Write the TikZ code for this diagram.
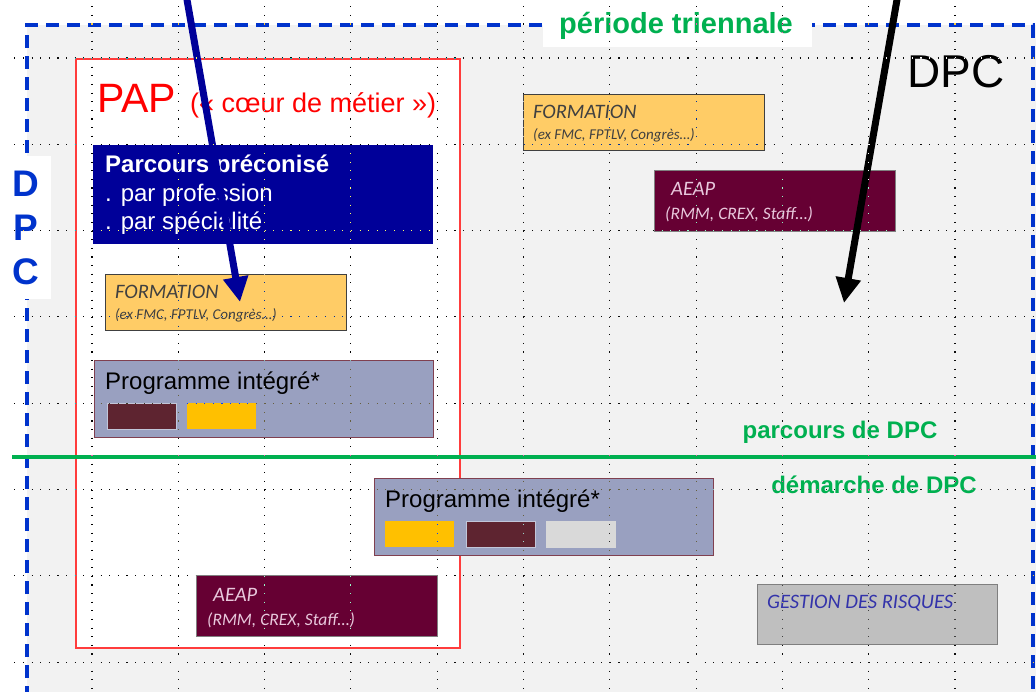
\documentclass[tikz,border=0pt]{standalone}
\usepackage{fontspec}
\setmainfont{Liberation Sans}
\newfontfamily\boxfont{Carlito}
\usepackage{tikz}
\usetikzlibrary{arrows.meta}

\definecolor{dpcblue}{RGB}{0,51,204}
\definecolor{trigreen}{RGB}{0,176,80}
\definecolor{bggray}{RGB}{242,242,242}
\definecolor{papedge}{RGB}{255,60,60}
\definecolor{navy}{RGB}{0,0,153}
\definecolor{formfill}{RGB}{255,204,102}
\definecolor{aeapfill}{RGB}{102,0,51}
\definecolor{aeaptext}{RGB}{232,200,220}
\definecolor{progfill}{RGB}{153,160,192}
\definecolor{progedge}{RGB}{128,64,80}
\definecolor{wine}{RGB}{94,36,48}
\definecolor{gold}{RGB}{255,192,0}
\definecolor{chipgray}{RGB}{217,217,217}
\definecolor{riskfill}{RGB}{191,191,191}
\definecolor{riskedge}{RGB}{127,127,127}
\definecolor{risktext}{RGB}{51,51,170}

\tikzset{
  panel/.style={anchor=north west, inner sep=0pt},
  formbox/.style={panel, fill=formfill, draw=black!75, line width=0.8pt, minimum width=241pt, minimum height=56pt},
  aeapbox/.style={panel, fill=aeapfill, draw=black!50, line width=0.8pt, minimum width=241pt, minimum height=61pt},
  progbox/.style={panel, fill=progfill, draw=progedge, line width=0.9pt, minimum width=339pt, minimum height=77pt},
  chip/.style={panel, minimum width=69pt, minimum height=26pt},
  label/.style={anchor=base west, inner sep=0pt},
  boxtext/.style={label, font=\boxfont\itshape\fontsize{20.5}{24}\selectfont},
  boxnote/.style={label, font=\boxfont\itshape\fontsize{15}{18}\selectfont},
  greenlabel/.style={anchor=base, inner sep=0pt, text=trigreen, font=\bfseries\fontsize{24}{28}\selectfont},
  gridline/.style={white, line width=1.1pt, dash pattern=on 1.1pt off 7.53pt},
}

\begin{document}
\begin{tikzpicture}[x=1pt, y=-1pt, >={Triangle[length=25pt, width=24pt]}]
\useasboundingbox (0,0) rectangle (1036,692);
\clip (0,0) rectangle (1036,692);
\fill[white] (0,0) rectangle (1036,692);

% cadre de la periode triennale
\fill[bggray] (27,25) rectangle (1040,700);
\draw[dpcblue, line width=3.3pt, dash pattern=on 13pt off 8pt] (27,720) -- (27,25) -- (1033,25) -- (1033,720);

\node[panel, fill=white, minimum width=51pt, minimum height=143pt] (dpcside) at (0,156) {};
\node[anchor=base, inner sep=0pt, text=dpcblue, font=\bfseries\fontsize{37}{44}\selectfont] (sideD) at (26,197) {D};
\node[anchor=base, inner sep=0pt, text=dpcblue, font=\bfseries\fontsize{37}{44}\selectfont] (sideP) at (26,241) {P};
\node[anchor=base, inner sep=0pt, text=dpcblue, font=\bfseries\fontsize{37}{44}\selectfont] (sideC) at (26,285) {C};

\node[panel, fill=white, minimum width=269pt, minimum height=49pt] (trilabel) at (543,-2) {};
\node[greenlabel, font=\bfseries\fontsize{29}{34}\selectfont] (tritext) at (676,34) {période triennale};

\node[label, font=\fontsize{46}{55}\selectfont] (dpctitle) at (907,88) {DPC};

% PAP
\node[panel, draw=papedge, fill=white, line width=1.8pt, minimum width=384pt, minimum height=589pt] (pap) at (75,58) {};
\node[label, text=red, font=\fontsize{41}{48}\selectfont] (paptitle) at (97,113) {PAP};
\node[label, text=red, font=\fontsize{27}{32}\selectfont] (papsub) at (190,113) {(« cœur de métier »)};

\node[panel, fill=navy, minimum width=340pt, minimum height=99pt] (parcours) at (93,145) {};
\node[label, text=white, font=\bfseries\fontsize{24}{28}\selectfont] (parc1) at (105,173) {Parcours préconisé};
\node[label, text=white, font=\fontsize{24}{28}\selectfont] (parc2) at (105,202) {. par profession};
\node[label, text=white, font=\fontsize{24}{28}\selectfont] (parc3) at (105,230) {. par spécialité};

\node[formbox] (formpap) at (105,274) {};
\node[boxtext, text=black!75] at (115,299) {FORMATION};
\node[boxnote, text=black!75] at (115,320) {(ex FMC, FPTLV, Congrès…)};

\node[progbox] (prog1) at (94,360) {};
\node[label, font=\fontsize{24}{28}\selectfont] at (105,389) {Programme intégré*};
\node[chip, fill=wine, draw=progfill!60!white, line width=0.6pt] (prog1a) at (107,403) {};
\node[chip, fill=gold] (prog1b) at (187,403) {};

\node[aeapbox] (aeappap) at (196,575) {};
\node[boxtext, text=aeaptext] at (213,601) {AEAP};
\node[boxtext, text=aeaptext, font=\boxfont\itshape\fontsize{17.5}{21}\selectfont] at (207,625) {(RMM, CREX, Staff…)};

% hors PAP
\node[formbox] (formtop) at (523,94) {};
\node[boxtext, text=black!75] at (533,119) {FORMATION};
\node[boxnote, text=black!75] at (533,140) {(ex FMC, FPTLV, Congrès…)};

\node[aeapbox] (aeaptop) at (654,170) {};
\node[boxtext, text=aeaptext] at (671,196) {AEAP};
\node[boxtext, text=aeaptext, font=\boxfont\itshape\fontsize{17.5}{21}\selectfont] at (665,220) {(RMM, CREX, Staff…)};

\node[progbox] (prog2) at (374,478) {};
\node[label, font=\fontsize{24}{28}\selectfont] at (385,507) {Programme intégré*};
\node[chip, fill=gold] (prog2a) at (385,521) {};
\node[chip, fill=wine, draw=progfill!60!white, line width=0.6pt] (prog2b) at (466,521) {};
\node[chip, fill=chipgray, draw=white!85!black, line width=0.6pt] (prog2c) at (546,521) {};

\node[panel, fill=riskfill, draw=riskedge, line width=0.9pt, minimum width=240pt, minimum height=60pt] (risk) at (757,584) {};
\node[boxtext, text=risktext] at (767,608) {GESTION DES RISQUES};

% parcours / demarche
\coordinate (splitL) at (12,457);
\coordinate (splitR) at (1040,457);
\draw[trigreen, line width=3.3pt] (splitL) -- (splitR);
\node[greenlabel] (parcdpc) at (840,438) {parcours de DPC};
\node[greenlabel] (demdpc) at (874,493) {démarche de DPC};

% fleches
\coordinate (bluestart) at (186,-6);
\coordinate (bluetip) at (240,302);
\draw[->, navy, line width=7pt] (bluestart) -- (bluetip);
\coordinate (blackstart) at (898,-6);
\coordinate (blacktip) at (844,303);
\draw[->, black, line width=7pt] (blackstart) -- (blacktip);

% grille
\begin{scope}[blend mode=difference]
\foreach \gx in {0,...,10}
  \draw[gridline] (92+86.3*\gx,-28.3) -- ++(0,740);
\foreach \gy in {0,...,7}
  \draw[gridline] (14.3,58+86.3*\gy) -- ++(1030,0);
\end{scope}

\end{tikzpicture}
\end{document}
